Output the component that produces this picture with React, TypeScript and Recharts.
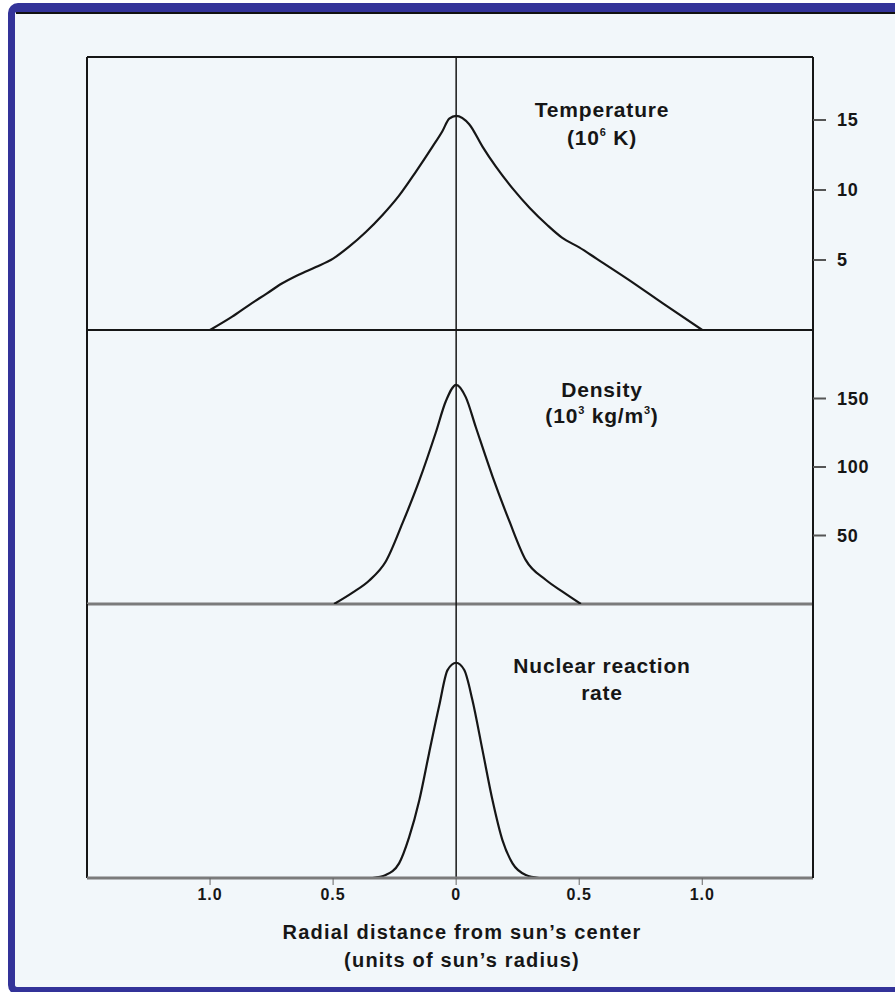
import React from 'react';
import { LineChart, Line, XAxis, YAxis, ReferenceLine } from 'recharts';

// radial distance (units of sun's radius), negative = left half of the drawing
const tempRadius = [-1.0, -0.91, -0.84, -0.77, -0.71, -0.64, -0.57, -0.5, -0.435, -0.367, -0.3, -0.232, -0.164, -0.096, -0.056, -0.028, 0, 0.053, 0.107, 0.16, 0.23, 0.3, 0.37, 0.43, 0.5, 0.57, 0.7, 0.84, 1.0];
const tempValues = [0, 0.95, 1.8, 2.6, 3.3, 3.95, 4.5, 5.1, 5.95, 7.0, 8.2, 9.6, 11.3, 13.1, 14.2, 15.1, 15.3, 14.7, 13.1, 11.7, 10.1, 8.7, 7.5, 6.6, 5.9, 5.1, 3.6, 1.9, 0];

const densRadius = [-0.496, -0.421, -0.354, -0.286, -0.218, -0.15, -0.083, -0.042, 0, 0.039, 0.08, 0.148, 0.215, 0.283, 0.365, 0.432, 0.507];
const densValues = [0, 8.3, 17, 31, 59, 90, 125, 148, 160, 151, 129, 93, 61, 32, 17.5, 9, 0];

const nucRadius = [-0.34, -0.286, -0.232, -0.191, -0.15, -0.11, -0.069, -0.035, 0, 0.033, 0.066, 0.107, 0.148, 0.188, 0.229, 0.283, 0.337];
const nucValues = [0, 0.014, 0.068, 0.19, 0.36, 0.58, 0.8, 0.966, 1.0, 0.966, 0.827, 0.594, 0.36, 0.176, 0.068, 0.014, 0];

const xTicks = [-1, -0.5, 0, 0.5, 1];
const tempTicks = [5, 10, 15];
const densTicks = [50, 100, 150];

const X_DOMAIN: [number, number] = [-1.5, 1.45];
const FONT = '"Liberation Sans", Arial, Helvetica, sans-serif';
const INK = '#161616';
const BG = '#f2f7fa';

const toRows = (rs: number[], vs: number[]) => rs.map((r, i) => ({ r, v: vs[i] }));

const tempData = toRows(tempRadius, tempValues);
const densData = toRows(densRadius, densValues);
const nucData = toRows(nucRadius, nucValues);

const fmtRadius = (v: number) => (v === 0 ? '0' : Math.abs(v).toFixed(1));

const yTick = { fill: INK, fontSize: 18, fontWeight: 700, fontFamily: FONT, letterSpacing: 0.8 };

function Panel({ data, domain, ticks, top, height, bottomStroke, bottomWidth, first, last }: any) {
  const m = 5;
  const axisH = last ? 32 : 0;
  return (
    <div style={{ position: 'absolute', left: 0, top: top - m }}>
      <LineChart
        width={895}
        height={height + m * 2 + axisH}
        data={data}
        margin={{ top: m, right: 0, bottom: m, left: 87 }}
      >
        <XAxis
          dataKey="r"
          type="number"
          domain={X_DOMAIN}
          allowDataOverflow
          ticks={xTicks}
          tickFormatter={fmtRadius}
          hide={!last}
          height={axisH}
          axisLine={{ stroke: '#7b7b7b', strokeWidth: 3 }}
          tickLine={{ stroke: '#666', strokeWidth: 1 }}
          tickSize={7}
          tickMargin={4}
          tick={{ fill: INK, fontSize: 16, fontWeight: 700, fontFamily: FONT, letterSpacing: 1 }}
        />
        <YAxis
          orientation="right"
          type="number"
          domain={domain}
          allowDataOverflow
          ticks={ticks}
          tick={ticks.length ? yTick : false}
          width={82}
          axisLine={{ stroke: INK, strokeWidth: 2 }}
          tickLine={{ stroke: '#555', strokeWidth: 2 }}
          tickSize={13}
          tickMargin={11}
        />
        <ReferenceLine x={X_DOMAIN[0]} stroke={INK} strokeWidth={2} />
        {first && <ReferenceLine y={domain[1]} stroke={INK} strokeWidth={2} />}
        {!last && <ReferenceLine y={0} stroke={bottomStroke} strokeWidth={bottomWidth} />}
        <ReferenceLine x={0} stroke={INK} strokeWidth={1.5} />
        <Line
          type="monotone"
          dataKey="v"
          stroke={INK}
          strokeWidth={2.2}
          dot={false}
          activeDot={false}
          isAnimationActive={false}
        />
      </LineChart>
    </div>
  );
}

export default function App() {
  const label = { fontFamily: FONT, fontWeight: 700, fontSize: 21, fill: INK, letterSpacing: 0.8 } as any;
  return (
    <div style={{ position: 'absolute', left: 0, top: 0, width: 895, height: 992, overflow: 'hidden', background: '#fff' }}>
      <div
        style={{
          position: 'absolute',
          left: 8,
          top: 3,
          width: 900,
          height: 992,
          boxSizing: 'border-box',
          background: BG,
          borderStyle: 'solid',
          borderColor: '#333399',
          borderWidth: '9px 8px 8px 7px',
          borderRadius: 10,
        }}
      />
      <div style={{ position: 'absolute', left: 16, right: 0, top: 12, height: 1.5, background: '#111' }} />

      <Panel data={tempData} domain={[0, 19.5]} ticks={tempTicks} top={57} height={273} bottomStroke={INK} bottomWidth={2} first />
      <Panel data={densData} domain={[0, 200]} ticks={densTicks} top={330} height={274} bottomStroke="#7b7b7b" bottomWidth={3} />
      <Panel data={nucData} domain={[0, 1.273]} ticks={[]} top={604} height={274} last />

      <svg width={895} height={992} style={{ position: 'absolute', left: 0, top: 0, pointerEvents: 'none' }}>
        <text x={602} y={117} textAnchor="middle" {...label}>Temperature</text>
        <text x={602} y={145} textAnchor="middle" {...label}>
          (10<tspan fontSize={11} dy={-9}>6</tspan><tspan dy={9}> K)</tspan>
        </text>

        <text x={602} y={397} textAnchor="middle" {...label}>Density</text>
        <text x={602} y={423} textAnchor="middle" {...label}>
          (10<tspan fontSize={11} dy={-9}>3</tspan><tspan dy={9}> kg/m</tspan><tspan fontSize={11} dy={-9}>3</tspan><tspan dy={9}>)</tspan>
        </text>

        <text x={602} y={673} textAnchor="middle" {...label}>Nuclear reaction</text>
        <text x={602} y={700} textAnchor="middle" {...label}>rate</text>

        <text x={462} y={939} textAnchor="middle" fontFamily={FONT} fontWeight={700} fontSize={20} fill={INK} letterSpacing={1.2}>
          Radial distance from sun’s center
        </text>
        <text x={462} y={967} textAnchor="middle" fontFamily={FONT} fontWeight={700} fontSize={20} fill={INK} letterSpacing={1.2}>
          (units of sun’s radius)
        </text>
      </svg>
    </div>
  );
}
